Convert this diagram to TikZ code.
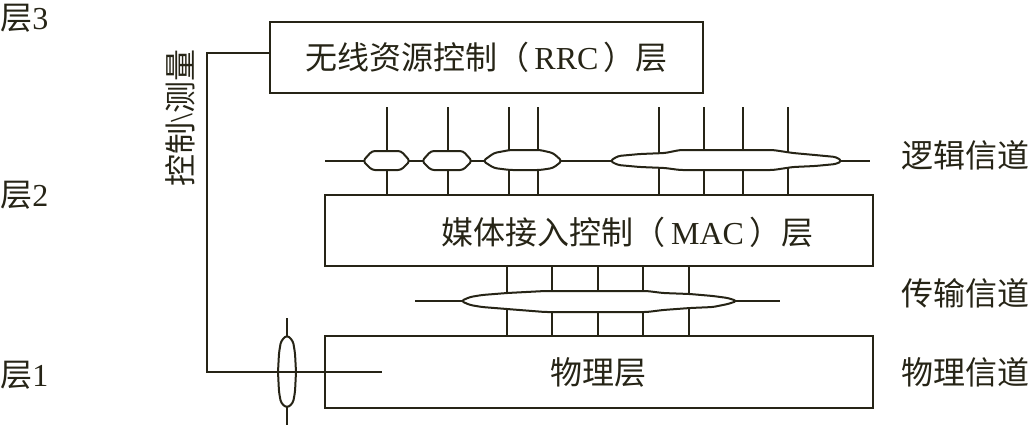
\documentclass[tikz,border=0pt]{standalone}
\usepackage{fontspec}
\setmainfont{Liberation Serif}
\newfontfamily\cjk{Noto Sans CJK SC}
\definecolor{inkc}{RGB}{38,36,22}
\tikzset{
  txt/.style={inner sep=0pt, text=inkc, font=\fontsize{16pt}{19pt}\selectfont},
  layerbox/.style={draw=inkc, line width=1pt, inner sep=0pt},
  chline/.style={draw=inkc, line width=1pt},
  blobline/.style={draw=inkc, fill=white, line width=1pt, rounded corners=1.5pt},
}
\begin{document}
\begin{tikzpicture}[x=0.5pt,y=-0.5pt]
\useasboundingbox (0,0) rectangle (1032,425);
% the three layers
\node[layerbox, txt, minimum width=216.5pt, minimum height=35.5pt] (rrc) at (486.5,57.5)
  {{\cjk 无线资源控制（}\,RRC\,{\cjk ）层}};
\node[layerbox, minimum width=274pt, minimum height=35.5pt,
  label={[txt, xshift=14.5pt, yshift=-1pt]center:{{\cjk 媒体接入控制（}\,MAC\,{\cjk ）层}}}] (mac) at (598.5,230.5) {};
\node[layerbox, txt, minimum width=274pt, minimum height=36pt] (phy) at (598.5,372) {{\cjk 物理层}};
% side labels
\node[txt, anchor=west] (lay3) at (0,18) {{\cjk 层}3};
\node[txt, anchor=west] (lay2) at (0,195) {{\cjk 层}2};
\node[txt, anchor=west] (lay1) at (0,375) {{\cjk 层}1};
\node[txt, anchor=west] (logch) at (901,155) {{\cjk 逻辑信道}};
\node[txt, anchor=west] (trch) at (901,293) {{\cjk 传输信道}};
\node[txt, anchor=west] (phych) at (901,372) {{\cjk 物理信道}};
\node[txt, rotate=90] (ctrlmeas) at (180,118) {{\cjk 控制}\textbackslash{\cjk 测量}};
% logical channels
\coordinate (lchL) at (325,161);
\coordinate (lchR) at (870,161);
\draw[chline] (lchL) -- (lchR);
\foreach \x in {387,448,509,538,659,704,743,788}
  \draw[chline] (\x,107) -- (\x,0 |- mac.north);
\draw[blobline] (363,161) -- (372,151) -- (401,151) -- (410,161) -- (401,170) -- (372,170) -- cycle;
\draw[blobline] (422,161) -- (431,151) -- (463,151) -- (472,161) -- (463,170) -- (431,170) -- cycle;
\draw[blobline] (483,161) -- (494,153) -- (510,150) -- (540,150) -- (553,153) -- (562,161)
  -- (553,168) -- (540,170) -- (510,170) -- (494,168) -- cycle;
\draw[blobline] (610,161) -- (618,156) -- (640,154) -- (665,153) -- (680,150) -- (773,150)
  -- (793,153) -- (815,155) -- (836,157) -- (842,161) -- (836,164) -- (815,166) -- (793,167)
  -- (773,170) -- (680,170) -- (665,168) -- (640,167) -- (618,165) -- cycle;
% transport channels
\coordinate (tchL) at (415,301);
\coordinate (tchR) at (780,301);
\draw[chline] (tchL) -- (tchR);
\foreach \x in {507,552,598,643,689}
  \draw[chline] (\x,0 |- mac.south) -- (\x,0 |- phy.north);
\draw[blobline] (461,301) -- (470,297) -- (482,295) -- (507,293) -- (545,291) -- (647,291)
  -- (663,293) -- (690,294) -- (713,296) -- (728,298) -- (737,301) -- (728,304) -- (713,307)
  -- (690,308) -- (663,310) -- (647,312) -- (545,312) -- (507,309) -- (482,307) -- (470,305) -- cycle;
% control / measurement
\coordinate (phytop) at (287,318);
\coordinate (phybot) at (287,425);
\coordinate (ctrlend) at (382,372);
\draw[chline] (phytop) -- (phybot);
\draw[blobline] (287,335) -- (293,341) -- (295,353) -- (296,372) -- (295,392) -- (293,403)
  -- (287,408) -- (281,403) -- (279,392) -- (278,372) -- (279,353) -- (281,341) -- cycle;
\draw[chline] ([yshift=2.2pt]rrc.west) -- ++(-31pt,0) |- (ctrlend);
\end{tikzpicture}
\end{document}
